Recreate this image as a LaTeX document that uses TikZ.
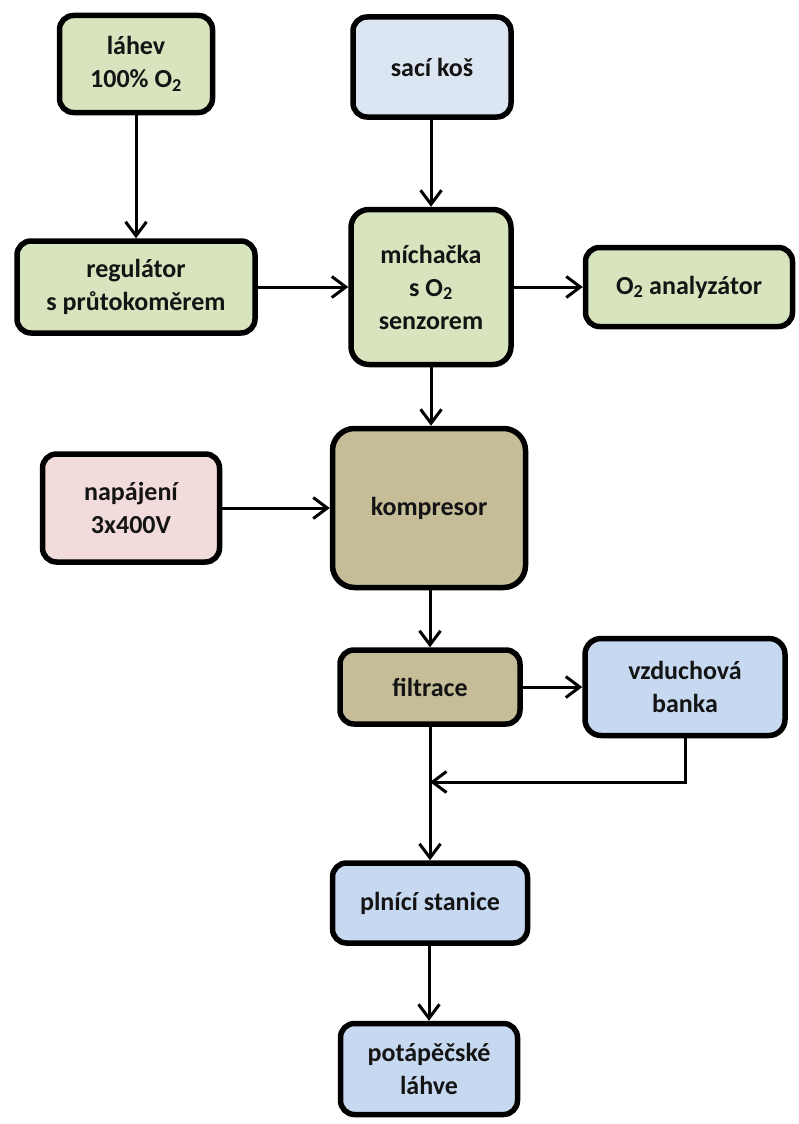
\documentclass[tikz,border=0pt]{standalone}
\usepackage{fontspec}
\setmainfont{Carlito}
\usetikzlibrary{arrows.meta,calc}
\definecolor{cgreen}{HTML}{D7E4BD}
\definecolor{clblue}{HTML}{DCE6F2}
\definecolor{cblue}{HTML}{C6D9F1}
\definecolor{cpink}{HTML}{F2DCDB}
\definecolor{ctan}{HTML}{C4BD97}
\definecolor{ctext}{HTML}{141414}
\tikzset{
  box/.style={draw=black, line width=5.5pt, rounded corners=14pt, align=center,
    font=\fontsize{26}{33}\selectfont\bfseries, text=ctext, inner sep=0pt},
  conn/.style={line width=3pt, -{Straight Barb[length=14pt,width=21pt,line width=3pt]}},
}
\begin{document}
\begin{tikzpicture}[x=1pt,y=-1pt]
\useasboundingbox (0,0) rectangle (798,1124);
\fill[white] (0,0) rectangle (798,1124);
\node[box, fill=cgreen, minimum width=153pt, minimum height=97pt] (lahev) at (136,64) {láhev\\100\% O\textsubscript{2}};
\node[box, fill=clblue, minimum width=158pt, minimum height=100pt] (saci) at (432,67) {sací koš};
\node[box, fill=cgreen, minimum width=238pt, minimum height=92pt] (reg) at (136,287) {regulátor\\s průtokoměrem};
\node[box, fill=cgreen, minimum width=160pt, minimum height=155pt, rounded corners=18pt] (mich) at (431,287) {míchačka\\s O\textsubscript{2}\\senzorem};
\node[box, fill=cgreen, minimum width=207pt, minimum height=79pt] (anal) at (689,287) {O\textsubscript{2} analyzátor};
\node[box, fill=cpink, minimum width=177pt, minimum height=108pt] (nap) at (131,508) {napájení\\3x400V};
\node[box, fill=ctan, minimum width=193pt, minimum height=159pt, rounded corners=22pt] (komp) at (429,508) {kompresor};
\node[box, fill=ctan, minimum width=180pt, minimum height=74pt] (filt) at (430,687) {filtrace};
\node[box, fill=cblue, minimum width=200pt, minimum height=97pt, rounded corners=16pt] (banka) at (685,687) {vzduchová\\banka};
\node[box, fill=cblue, minimum width=195pt, minimum height=80pt] (pln) at (430,903) {plnící stanice};
\node[box, fill=cblue, minimum width=177pt, minimum height=91pt] (pot) at (429,1069) {potápěčské\\láhve};
\coordinate (j) at (430,782);

\draw[conn] (lahev.south) -- (reg.north);
\draw[conn] (saci.south -| mich) -- (mich.north);
\draw[conn] (reg.east) -- (mich.west);
\draw[conn] (mich.east) -- (anal.west);
\draw[conn] (mich.south) -- (komp.north -| mich);
\draw[conn] (nap.east) -- (komp.west);
\draw[conn] (komp.south -| filt) -- (filt.north);
\draw[conn] (filt.east) -- (banka.west);
\draw[conn] (filt.south) -- (pln.north);
\draw[conn] (banka.south) |- (j);
\draw[conn] (pln.south -| pot) -- (pot.north);
\end{tikzpicture}
\end{document}
